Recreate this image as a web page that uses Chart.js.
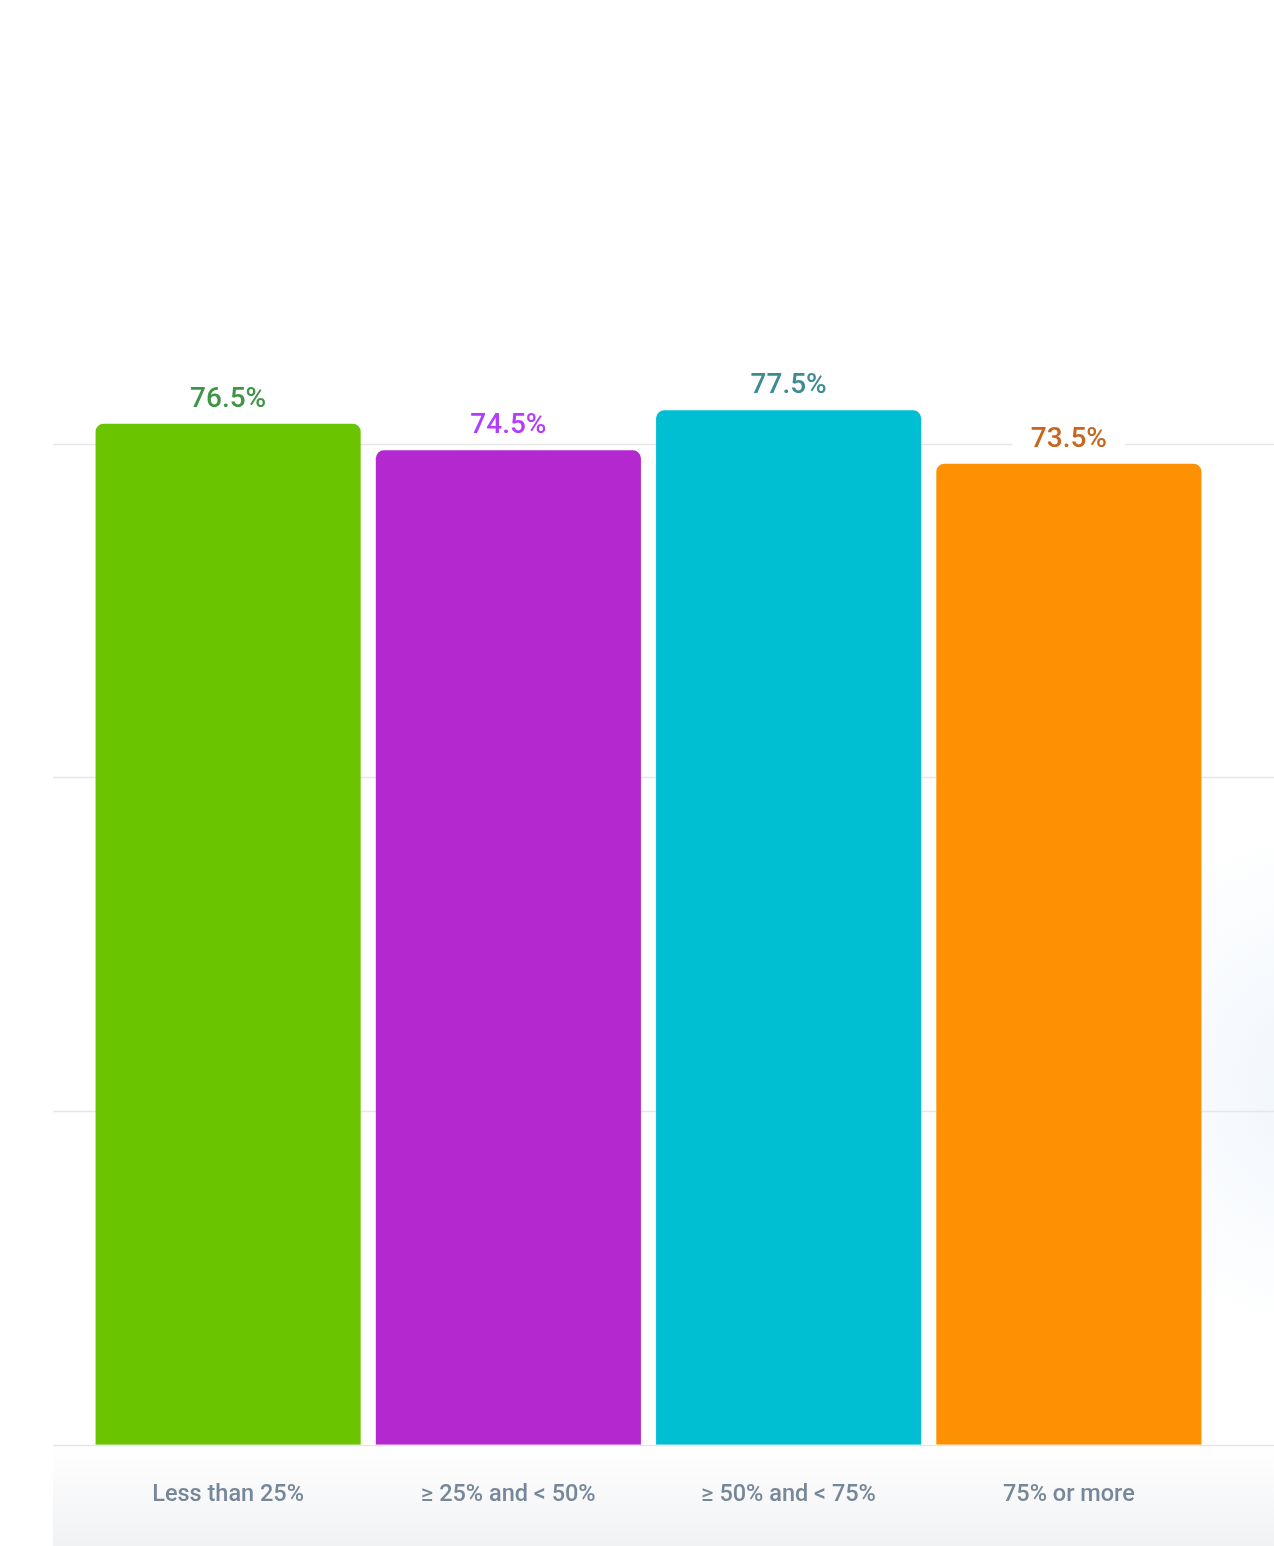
<!DOCTYPE html>
<html>
<head>
<meta charset="utf-8">
<script src="https://cdn.jsdelivr.net/npm/chart.js@4.4.1/dist/chart.umd.min.js"></script>
<style>
    html, body { margin: 0; padding: 0; background: #fff; }
    .chart-container { position: relative; width: 1274px; height: 1546px; }
</style>
</head>
<body>
<div class="chart-container">
    <canvas id="quizStats" width="1274" height="1546"></canvas>
</div>
<script>
// Dados do gráfico
const categories = ['Less than 25%', '≥ 25% and < 50%', '≥ 50% and < 75%', '75% or more'];
const values = [76.5, 74.5, 77.5, 73.5];
const barColors = ['#6ac400', '#b429cf', '#00bfd3', '#fe9103'];
const labelColors = ['#3f9546', '#b33cff', '#3d8c93', '#c6661f'];
const gridValues = [0, 25, 50, 75];

// Plugin: fundo com leve degradê embaixo
const backgroundPlugin = {
    id: 'background',
    beforeDraw(chart) {
        const { ctx, width, height, chartArea } = chart;
        ctx.save();
        ctx.fillStyle = '#ffffff';
        ctx.fillRect(0, 0, width, height);
        const g = ctx.createLinearGradient(0, chartArea.bottom, 0, height);
        g.addColorStop(0, '#ffffff');
        g.addColorStop(1, '#f1f2f4');
        ctx.fillStyle = g;
        ctx.fillRect(53, chartArea.bottom, width - 53, height - chartArea.bottom);
        const r = ctx.createRadialGradient(width + 60, 1080, 10, width + 60, 1080, 260);
        r.addColorStop(0, 'rgba(230, 239, 249, 0.6)');
        r.addColorStop(1, 'rgba(230, 239, 249, 0)');
        ctx.fillStyle = r;
        ctx.fillRect(1200, 600, width - 1200, chartArea.bottom - 600);
        ctx.restore();
    }
};

// Plugin: linhas de grade além da área do gráfico
const gridPlugin = {
    id: 'wideGrid',
    beforeDatasetsDraw(chart) {
        const { ctx, width, scales } = chart;
        ctx.save();
        ctx.strokeStyle = '#e5e6e8';
        ctx.lineWidth = 1.5;
        gridValues.forEach(v => {
            const y = Math.round(scales.y.getPixelForValue(v)) + 0.5;
            ctx.beginPath();
            ctx.moveTo(53, y);
            ctx.lineTo(width, y);
            ctx.stroke();
        });
        ctx.restore();
    }
};

// Plugin: rótulos de valor acima das barras
const valueLabelPlugin = {
    id: 'valueLabels',
    afterDatasetsDraw(chart) {
        const { ctx } = chart;
        const meta = chart.getDatasetMeta(0);
        ctx.save();
        ctx.font = '500 28px Roboto';
        ctx.textAlign = 'center';
        ctx.textBaseline = 'middle';
        meta.data.forEach((bar, i) => {
            const text = values[i].toFixed(1) + '%';
            const y = bar.y - 24;
            const w = ctx.measureText(text).width + 36;
            ctx.fillStyle = '#ffffff';
            ctx.fillRect(bar.x - w / 2, y - 16, w, 32);
            ctx.fillStyle = labelColors[i];
            ctx.fillText(text, bar.x, y);
        });
        ctx.restore();
    }
};

class ChartPage {
    constructor() {
        this.initializeChart();
    }

    // Inicializar gráfico
    initializeChart() {
        const ctx = document.getElementById('quizStats');
        this.mainChart = new Chart(ctx, {
            type: 'bar',
            data: {
                labels: categories,
                datasets: [{
                    data: values,
                    backgroundColor: barColors,
                    borderRadius: { topLeft: 8, topRight: 8, bottomLeft: 0, bottomRight: 0 },
                    borderSkipped: false,
                    barPercentage: 1,
                    categoryPercentage: 0.946
                }]
            },
            plugins: [backgroundPlugin, gridPlugin, valueLabelPlugin],
            options: {
                responsive: false,
                animation: false,
                layout: {
                    padding: { left: 88, right: 65, top: 110, bottom: 1 }
                },
                plugins: {
                    legend: { display: false },
                    tooltip: { enabled: false }
                },
                scales: {
                    y: {
                        display: false,
                        min: 0,
                        max: 100
                    },
                    x: {
                        grid: { display: false, drawTicks: false },
                        border: { display: false },
                        ticks: {
                            padding: 36,
                            color: '#76879a',
                            font: { family: 'Roboto', size: 23.5, weight: '500' }
                        }
                    }
                }
            }
        });
    }
}

// Inicializar quando o documento estiver pronto
document.addEventListener('DOMContentLoaded', () => {
    window.chartPage = new ChartPage();
});
</script>
</body>
</html>
